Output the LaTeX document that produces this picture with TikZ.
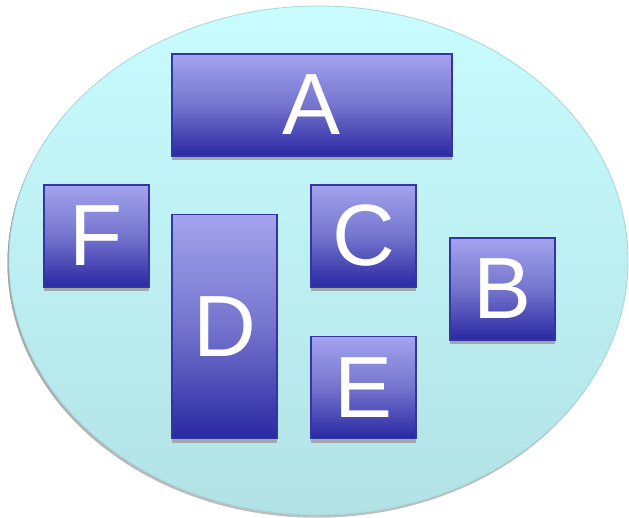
\documentclass[tikz,border=0pt]{standalone}
\usepackage{fontspec}
\setmainfont{Liberation Sans}
\usetikzlibrary{shadings}
\definecolor{boxtop}{HTML}{A3A3EE}
\definecolor{boxmid}{HTML}{7474CE}
\definecolor{boxbot}{HTML}{2A28A2}
\definecolor{boxline}{HTML}{3434A2}
\definecolor{elltop}{HTML}{C8FCFF}
\definecolor{ellbot}{HTML}{B2E2E6}
\definecolor{ellline}{HTML}{A4D6DA}
\definecolor{shade}{HTML}{A0A8A8}
\tikzset{
  blk/.style={draw=boxline, line width=1.1pt, top color=boxtop, bottom color=boxbot,
    middle color=boxmid, text=white, inner sep=0pt,
    font=\fontsize{87}{87}\selectfont},
  blkshadow/.style={fill=shade, draw=none},
  oval/.style={draw=ellline, line width=0.8pt, top color=elltop, bottom color=ellbot}
}
\begin{document}
\begin{tikzpicture}[x=1pt,y=-1pt]
\useasboundingbox (0,0) rectangle (629,518);
% ellipse shadow and ellipse
\fill[shade, opacity=0.5] (317,263) ellipse [x radius=309.5pt, y radius=254.5pt];
\path[oval] (318.5,260.5) ellipse [x radius=309.5pt, y radius=254.5pt];
% box shadows
\foreach \x/\y/\w in {172/156/280, 44/287/105, 172/438.5/105, 311/287/105, 450/340/105, 311/438.5/105}
  \fill[blkshadow] (\x,\y) rectangle ++(\w,4);
% boxes
\node[blk, minimum width=280pt, minimum height=102pt] (A) at (312,105) {A};
\node[blk, minimum width=105pt, minimum height=102pt] (F) at (96.5,236) {F};
\node[blk, minimum width=105pt, minimum height=224pt] (D) at (224.5,326.5) {D};
\node[blk, minimum width=105pt, minimum height=102pt] (C) at (363.5,236) {C};
\node[blk, minimum width=105pt, minimum height=102pt] (B) at (502.5,289) {B};
\node[blk, minimum width=105pt, minimum height=102pt] (E) at (363.5,387.5) {E};
\end{tikzpicture}
\end{document}
